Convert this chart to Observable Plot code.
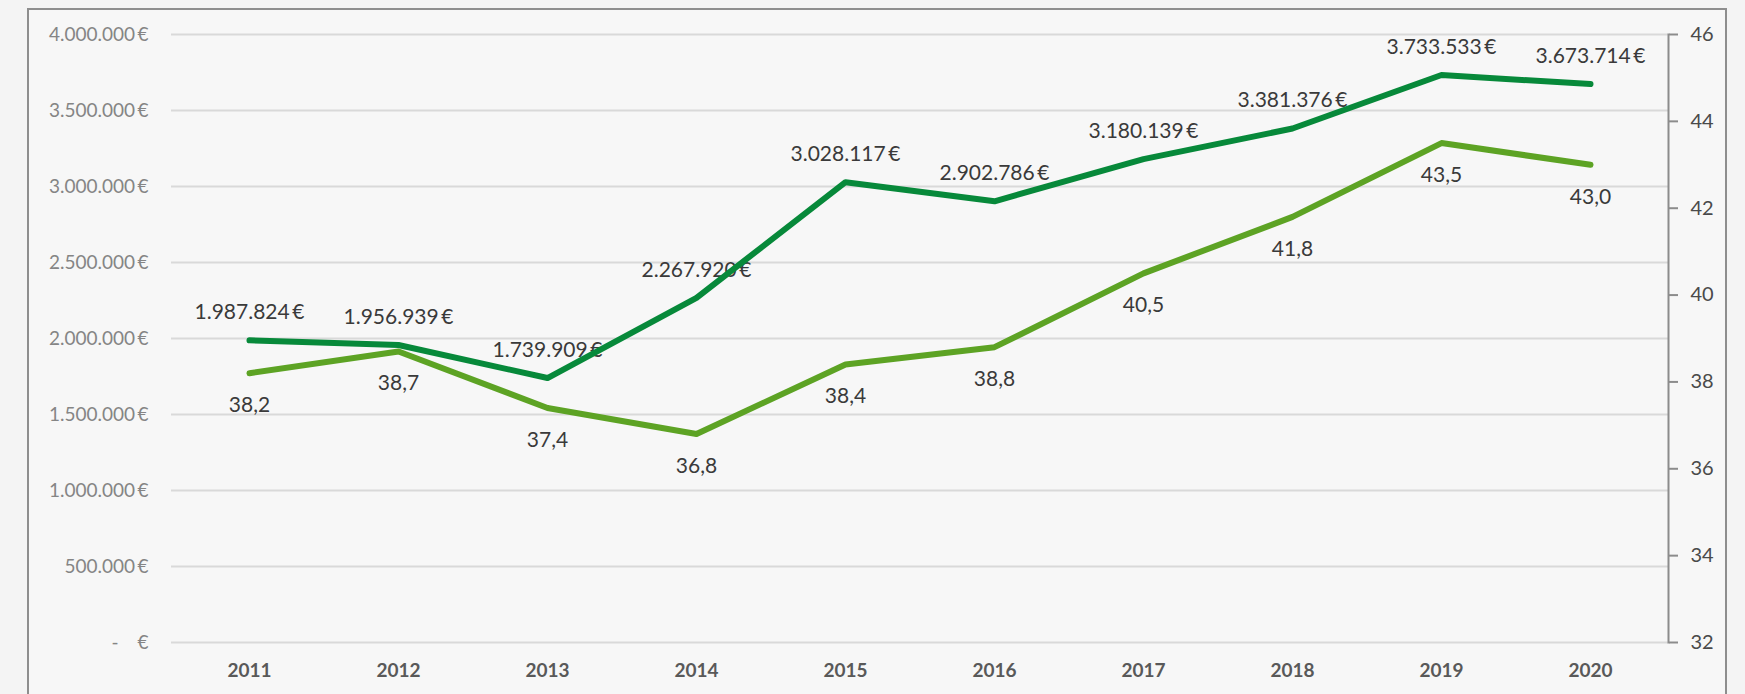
<!DOCTYPE html>
<html>
<head>
<meta charset="utf-8">
<script src="https://cdn.jsdelivr.net/npm/d3@7"></script>
<script src="https://cdn.jsdelivr.net/npm/@observablehq/plot@0.6"></script>
<style>
  html, body { margin: 0; padding: 0; background: #f4f4f4; width: 1745px; height: 694px; overflow: hidden; }
  #wrap { position: relative; width: 1745px; height: 694px; }
  #border { position: absolute; left: 27px; top: 8px; width: 1700px; height: 720px; border: 2px solid #8e8e8e; background: #f7f7f7; box-sizing: border-box; }
  #chart { position: absolute; left: 0; top: 0; }
</style>
</head>
<body>
<div id="wrap"><div id="border"></div><div id="chart"></div></div>
<script>
const years = ["2011","2012","2013","2014","2015","2016","2017","2018","2019","2020"];
const amounts = [1987824, 1956939, 1739909, 2267920, 3028117, 2902786, 3180139, 3381376, 3733533, 3673714];
const ages = [38.2, 38.7, 37.4, 36.8, 38.4, 38.8, 40.5, 41.8, 43.5, 43.0];
const leftTicks = [0, 500000, 1000000, 1500000, 2000000, 2500000, 3000000, 3500000, 4000000];
const rightTicks = [32, 34, 36, 38, 40, 42, 44, 46];
const leftMax = 4000000;
const rightMin = 32, rightMax = 46;

const toLeft = v => (v - rightMin) / (rightMax - rightMin) * leftMax;
const fromLeft = v => rightMin + v / leftMax * (rightMax - rightMin);

const locale = d3.formatLocale({decimal: ",", thousands: ".", grouping: [3], currency: ["", "€"]});
const fmtInt = locale.format(",.0f");
const fmtDec = locale.format(".1f");
const euroAxis = v => v === 0 ? "-\u2002\u2002€" : fmtInt(v) + "\u2009€";
const euroLabel = v => fmtInt(v) + "\u2009€";

const data = years.map((y, i) => ({year: y, amount: amounts[i], age: ages[i]}));

const chart = Plot.plot({
  width: 1745,
  height: 694,
  marginLeft: 171,
  marginRight: 77,
  marginTop: 34,
  marginBottom: 52,
  style: {background: "transparent", fontFamily: "Lato, 'Open Sans', sans-serif", overflow: "visible"},
  x: {type: "point", domain: years, padding: 0.5, label: null},
  y: {domain: [0, leftMax], label: null},
  marks: [
    Plot.gridY(leftTicks, {stroke: "#d9d9d9", strokeOpacity: 1, strokeWidth: 2}),
    Plot.axisY(leftTicks, {anchor: "left", tickSize: 0, tickPadding: 23, tickFormat: euroAxis, fontSize: 19, fill: "#858585", label: null}),
    Plot.axisY(rightTicks.map(toLeft), {anchor: "right", tickSize: 9, tickPadding: 13, tickFormat: v => String(Math.round(fromLeft(v))), fontSize: 20, fill: "#4a4a4a", stroke: "#8c8c8c", strokeWidth: 2, label: null}),
    Plot.frame({anchor: "right", stroke: "#8c8c8c", strokeWidth: 2}),
    Plot.axisX({tickSize: 0, tickPadding: 21, fontSize: 19, fontWeight: "bold", fill: "#595959", label: null}),
    Plot.text(data, {x: "year", y: "amount", text: d => euroLabel(d.amount), dy: -28, lineAnchor: "middle", fontSize: 21, fill: "#3a3a3a"}),
    Plot.text(data, {x: "year", y: d => toLeft(d.age), text: d => fmtDec(d.age), dy: 32, lineAnchor: "middle", fontSize: 21, fill: "#3a3a3a"}),
    Plot.line(data, {x: "year", y: "amount", stroke: "#07893a", strokeWidth: 6, strokeLinecap: "round", strokeLinejoin: "round"}),
    Plot.line(data, {x: "year", y: d => toLeft(d.age), stroke: "#5da324", strokeWidth: 6, strokeLinecap: "round", strokeLinejoin: "round"})
  ]
});
document.getElementById("chart").appendChild(chart);
</script>
</body>
</html>
